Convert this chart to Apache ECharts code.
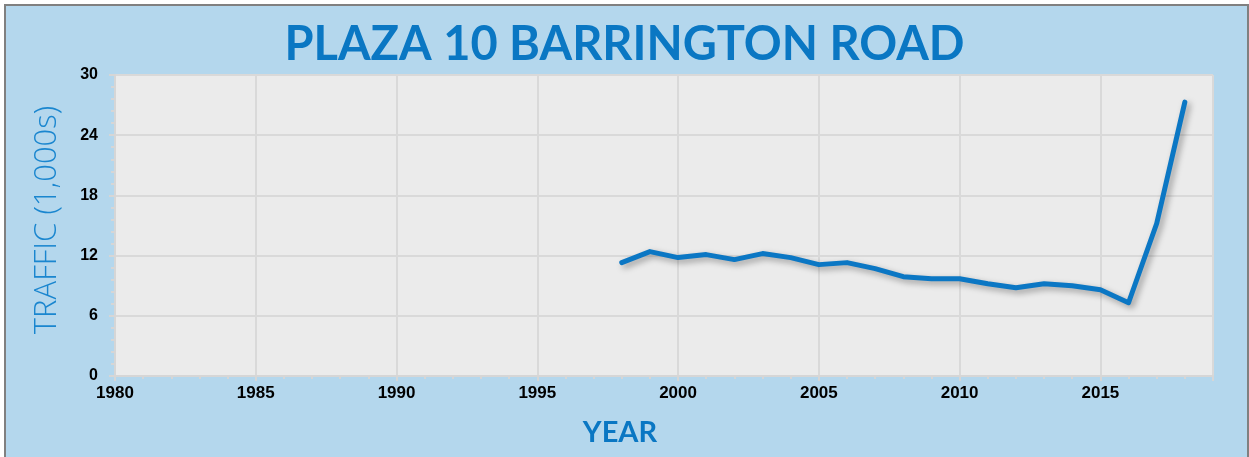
<!DOCTYPE html>
<html>
<head>
<meta charset="utf-8">
<style>
  html, body { margin: 0; padding: 0; background: #ffffff; }
  #chart { width: 1249px; height: 457px; }
</style>
<script src="https://cdn.jsdelivr.net/npm/echarts@6/dist/echarts.min.js"></script>
</head>
<body>
<div id="chart"></div>
<script type="text/javascript">
    // traffic counts, thousands of vehicles per day
    var years = [1998, 1999, 2000, 2001, 2002, 2003, 2004, 2005, 2006, 2007, 2008,
                 2009, 2010, 2011, 2012, 2013, 2014, 2015, 2016, 2017, 2018];
    var traffic = [11.3, 12.4, 11.8, 12.1, 11.6, 12.2, 11.8, 11.1, 11.3, 10.7, 9.9,
                   9.7, 9.7, 9.2, 8.8, 9.2, 9.0, 8.6, 7.3, 15.2, 27.3];
    var yTicks = [0, 6, 12, 18, 24, 30];

    var points = [];
    for (var i = 0; i < years.length; i++) {
        points.push([years[i], traffic[i]]);
    }

    var chart = echarts.init(document.getElementById('chart'));
    chart.setOption({
        backgroundColor: '#ffffff',
        animation: false,
        graphic: [{
            type: 'rect',
            z: -10,
            silent: true,
            shape: { x: 5, y: 5, width: 1243, height: 460 },
            style: { fill: '#b4d7ed', stroke: '#808080', lineWidth: 2 }
        }],
        title: {
            text: 'PLAZA 10 BARRINGTON ROAD',
            left: 'center',
            top: 16,
            padding: [5, 5, 5, 13],
            textStyle: {
                fontFamily: 'Lato',
                fontWeight: 'bold',
                fontSize: 47,
                color: '#0a77c3'
            }
        },
        grid: {
            left: 115,
            right: 36,
            top: 75,
            bottom: 81,
            show: true,
            backgroundColor: '#ebebeb',
            borderWidth: 0
        },
        xAxis: [{
            type: 'value',
            min: 1980,
            max: 2019,
            interval: 5,
            name: 'YEAR',
            nameLocation: 'middle',
            nameGap: 42,
            nameTextStyle: {
                fontFamily: 'Lato',
                fontWeight: 'bold',
                fontSize: 29,
                color: '#0a77c3',
                padding: [0, 88, 0, 0]
            },
            axisLine: { lineStyle: { color: '#d6d6d6', width: 2 } },
            axisTick: { length: 5, lineStyle: { color: '#d6d6d6', width: 2 } },
            axisLabel: {
                margin: 9,
                fontFamily: 'Liberation Sans',
                fontWeight: 'bold',
                fontSize: 17,
                color: '#000000',
                formatter: function (v) { return v > 2015 ? '' : String(v); }
            },
            splitLine: { lineStyle: { color: '#d9d9d9', width: 2 } }
        }, {
            type: 'value',
            position: 'bottom',
            min: 1980,
            max: 2019,
            interval: 1,
            axisLine: { show: false },
            axisTick: { length: 3, lineStyle: { color: '#d6d6d6', width: 2 } },
            axisLabel: { show: false },
            splitLine: { show: false }
        }],
        yAxis: {
            type: 'value',
            min: yTicks[0],
            max: yTicks[yTicks.length - 1],
            interval: 6,
            name: 'TRAFFIC (1,000s)',
            nameLocation: 'middle',
            nameRotate: 90,
            nameGap: 52,
            nameTextStyle: {
                fontFamily: 'Open Sans',
                fontWeight: 'lighter',
                fontSize: 31,
                color: '#1a86cf',
                padding: [0, 0, 0, 11]
            },
            axisLine: { show: true, lineStyle: { color: '#d6d6d6', width: 2 } },
            axisTick: { show: true, length: 6, lineStyle: { color: '#d6d6d6', width: 2 } },
            minorTick: { show: true, splitNumber: 5, length: 4, lineStyle: { color: '#d6d6d6', width: 2 } },
            axisLabel: {
                margin: 17,
                fontFamily: 'Liberation Sans',
                fontWeight: 'bold',
                fontSize: 16,
                color: '#000000'
            },
            splitLine: { lineStyle: { color: '#d9d9d9', width: 2 } }
        },
        series: [{
            type: 'line',
            data: points,
            symbol: 'none',
            lineStyle: {
                color: '#0b77c4',
                width: 5,
                cap: 'round',
                join: 'round',
                shadowColor: 'rgba(0,0,0,0.35)',
                shadowBlur: 6,
                shadowOffsetX: 3,
                shadowOffsetY: 3
            }
        }]
    });
</script>
</body>
</html>
